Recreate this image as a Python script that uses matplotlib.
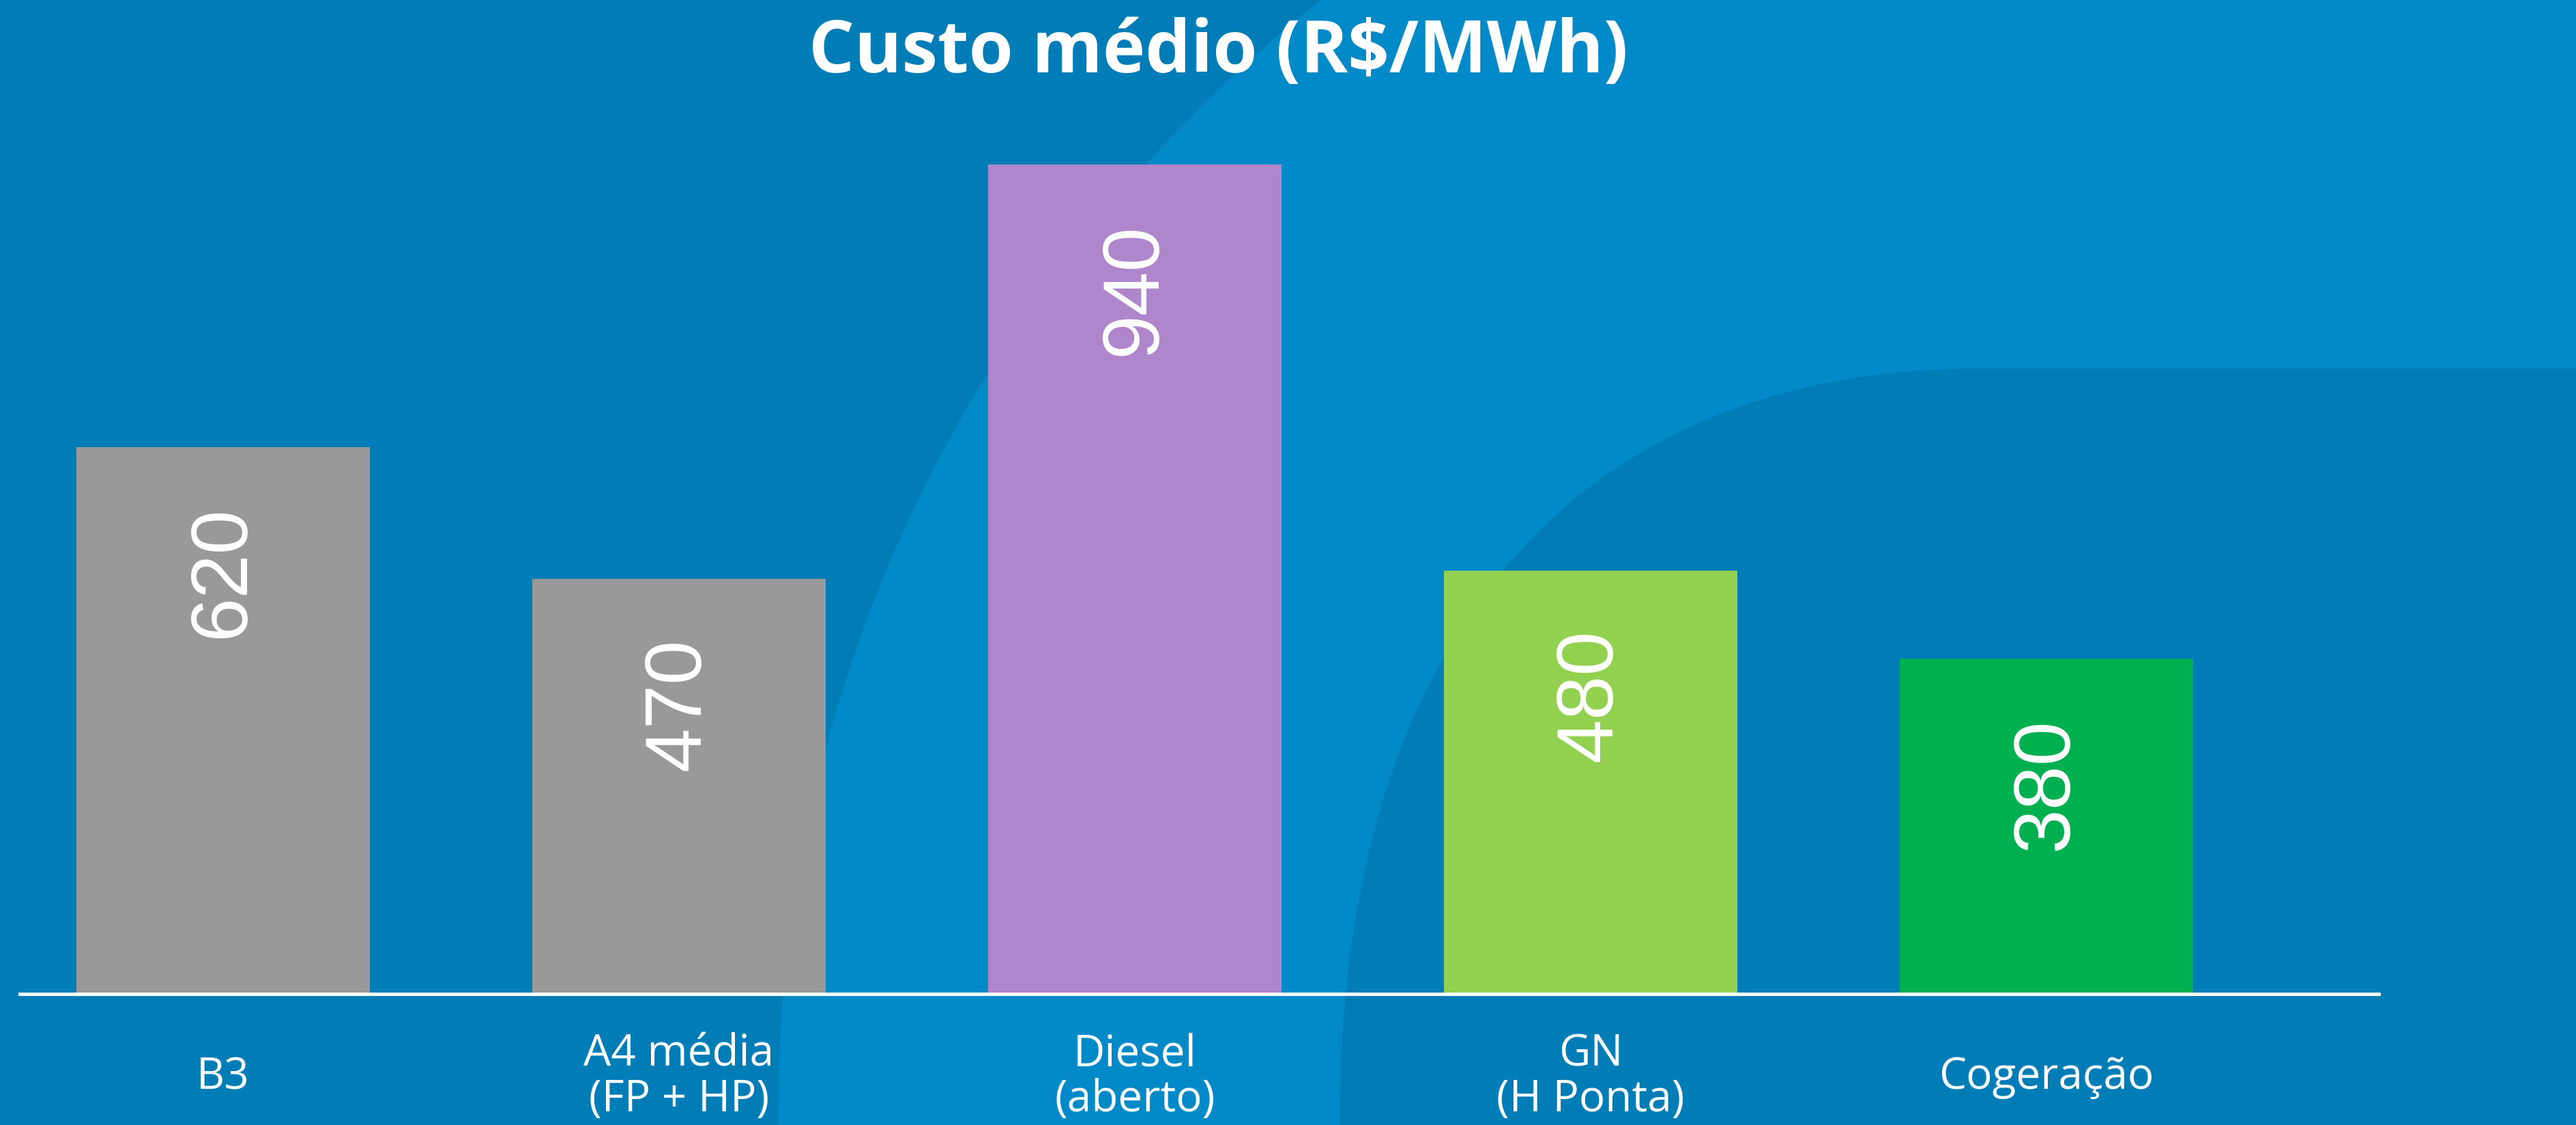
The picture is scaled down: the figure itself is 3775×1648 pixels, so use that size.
import numpy as np
import matplotlib
matplotlib.use("Agg")
import matplotlib.pyplot as plt
from matplotlib.path import Path
from matplotlib.patches import PathPatch

# Data
categories = ["B3", "A4 média\n(FP + HP)", "Diesel\n(aberto)", "GN\n(H Ponta)", "Cogeração"]
custo = [620, 470, 940, 480, 380]
bar_colors = ["#999999", "#999999", "#AF86CB", "#92D050", "#00B050"]
title = "Custo médio (R$/MWh)"

W, H = 3775, 1648
light_bg = "#0189C8"
dark_bg = "#007DB7"


def fig_xy(px, py):
    # pixel coords (origin top-left) -> figure fraction
    return px / W, 1 - py / H


fig = plt.figure(figsize=(W / 100, H / 100), dpi=100)
fig.patch.set_facecolor(light_bg)

# background shapes
left_pts = [(0, 0), (1935, 0), (1500, 350), (1140, 900), (1140, 1648), (0, 1648), (0, 0)]
left_codes = [Path.MOVETO, Path.LINETO, Path.CURVE4, Path.CURVE4, Path.CURVE4,
              Path.LINETO, Path.CLOSEPOLY]
fig.patches.append(PathPatch(Path([fig_xy(*p) for p in left_pts], left_codes),
                             transform=fig.transFigure, facecolor=dark_bg,
                             edgecolor="none", zorder=-5))

right_pts = [(W, 540), (2900, 540), (2300, 540), (1960, 950), (1964, 1648),
             (W, 1648), (W, 540)]
right_codes = [Path.MOVETO, Path.LINETO, Path.CURVE4, Path.CURVE4, Path.CURVE4,
               Path.LINETO, Path.CLOSEPOLY]
fig.patches.append(PathPatch(Path([fig_xy(*p) for p in right_pts], right_codes),
                             transform=fig.transFigure, facecolor=dark_bg,
                             edgecolor="none", zorder=-5))

# axes area: baseline at y=1456 px, line from x=29 to x=3486 px
ax_left, ax_right = 29, 3486
ax_bottom, ax_top = 1456, 100
ax = fig.add_axes([ax_left / W, 1 - ax_bottom / H, (ax_right - ax_left) / W,
                   (ax_bottom - ax_top) / H])
ax.set_facecolor("none")
ax.set_zorder(5)

x = np.arange(len(categories))
ax.bar(x, custo, width=0.644, color=bar_colors, zorder=2)
ax.set_xlim(-0.446, 4.729)
ax.set_ylim(0, 1049)

for s in ["top", "left", "right"]:
    ax.spines[s].set_visible(False)
ax.spines["bottom"].set_color("white")
ax.spines["bottom"].set_linewidth(3.6)
ax.spines["bottom"].set_zorder(3)
ax.set_xticks([])
ax.set_yticks([])

# value labels, rotated, inside top of bars
for xi, v in zip(x, custo):
    ax.annotate(str(v), xy=(xi, v), xytext=(0, -62), textcoords="offset points",
                rotation=90, ha="center", va="top", color="white",
                fontsize=84, family=["Liberation Sans", "DejaVu Sans"])

# category labels
trans = matplotlib.transforms.blended_transform_factory(ax.transData, fig.transFigure)
for xi, lab in zip(x, categories):
    ax.text(xi, 1 - 1578 / H, lab, transform=trans, ha="center", va="center",
            color="white", fontsize=46, linespacing=1.05,
            family=["Open Sans", "DejaVu Sans"], clip_on=False)

tx, ty = fig_xy(1785, 106)
fig.text(tx, ty, title, ha="center", va="baseline", color="white",
         fontsize=76, fontweight="bold", family=["Open Sans", "DejaVu Sans"])

fig.savefig("out.png", dpi=100, facecolor=fig.get_facecolor())
